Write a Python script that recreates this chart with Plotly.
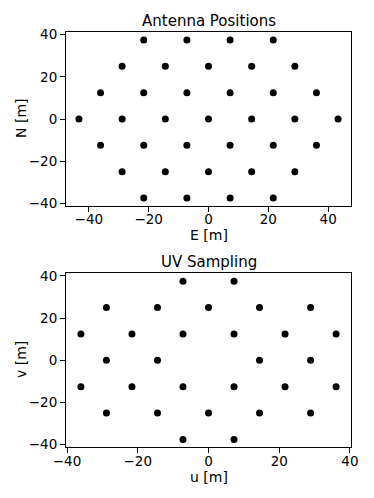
import plotly.graph_objects as go

# Antenna positions (m)
ant_E = [-21.65, -7.22, 7.22, 21.65,
         -28.87, -14.43, 0.0, 14.43, 28.87,
         -36.08, -21.65, -7.22, 7.22, 21.65, 36.08,
         -43.30, -28.87, -14.43, 0.0, 14.43, 28.87, 43.30,
         -36.08, -21.65, -7.22, 7.22, 21.65, 36.08,
         -28.87, -14.43, 0.0, 14.43, 28.87,
         -21.65, -7.22, 7.22, 21.65]
ant_N = [37.5, 37.5, 37.5, 37.5,
         25.0, 25.0, 25.0, 25.0, 25.0,
         12.5, 12.5, 12.5, 12.5, 12.5, 12.5,
         0.0, 0.0, 0.0, 0.0, 0.0, 0.0, 0.0,
         -12.5, -12.5, -12.5, -12.5, -12.5, -12.5,
         -25.0, -25.0, -25.0, -25.0, -25.0,
         -37.5, -37.5, -37.5, -37.5]

# UV sampling (m)
uv_u = [-7.22, 7.22,
        -28.87, -14.43, 0.0, 14.43, 28.87,
        -36.08, -21.65, -7.22, 7.22, 21.65, 36.08,
        -28.87, -14.43, 14.43, 28.87,
        -36.08, -21.65, -7.22, 7.22, 21.65, 36.08,
        -28.87, -14.43, 0.0, 14.43, 28.87,
        -7.22, 7.22]
uv_v = [37.5, 37.5,
        25.0, 25.0, 25.0, 25.0, 25.0,
        12.5, 12.5, 12.5, 12.5, 12.5, 12.5,
        0.0, 0.0, 0.0, 0.0,
        -12.5, -12.5, -12.5, -12.5, -12.5, -12.5,
        -25.0, -25.0, -25.0, -25.0, -25.0,
        -37.5, -37.5]

tick_vals = [-40, -20, 0, 20, 40]

W, H = 374, 498
FONT = "DejaVu Sans"

fig = go.Figure()
marker = dict(color="black", size=7, line=dict(width=0))
fig.add_trace(go.Scatter(x=ant_E, y=ant_N, mode="markers", marker=marker,
                         xaxis="x", yaxis="y", showlegend=False))
fig.add_trace(go.Scatter(x=uv_u, y=uv_v, mode="markers", marker=marker,
                         xaxis="x2", yaxis="y2", showlegend=False))

x0, x1 = 66 / W, 351 / W
top_dom = [1 - 206 / H, 1 - 32 / H]
bot_dom = [1 - 447.3 / H, 1 - 273.3 / H]

ax_common = dict(showline=True, linecolor="black", linewidth=1, mirror=True,
                 ticks="outside", ticklen=5, tickwidth=1, tickcolor="black",
                 showgrid=False, zeroline=False, tickvals=tick_vals,
                 automargin=False,
                 tickfont=dict(family=FONT, size=13.5, color="black"))
x_extra = dict(ticklabelstandoff=-4)

xc = (x0 + x1) / 2


def ann(text, x, y, size=14, angle=0):
    return dict(text=text, x=x, y=y, xref="paper", yref="paper",
                showarrow=False, textangle=angle,
                font=dict(family=FONT, size=size, color="black"),
                xanchor="center", yanchor="middle")


fig.update_layout(
    width=W, height=H,
    margin=dict(l=0, r=0, t=0, b=0),
    paper_bgcolor="white", plot_bgcolor="white",
    font=dict(family=FONT, color="black"),
    xaxis=dict(domain=[x0, x1], anchor="y", range=[-47.63, 47.63], **ax_common, **x_extra),
    yaxis=dict(domain=top_dom, anchor="x", range=[-41.25, 41.25], **ax_common),
    xaxis2=dict(domain=[x0, x1], anchor="y2", range=[-40.3, 40.3], **ax_common, **x_extra),
    yaxis2=dict(domain=bot_dom, anchor="x2", range=[-41.25, 41.25], **ax_common),
    annotations=[
        ann("Antenna Positions", xc, 1 - 21 / H, size=15),
        ann("UV Sampling", xc, 1 - 262 / H, size=15),
        ann("E [m]", xc, 1 - 235 / H),
        ann("N [m]", 21 / W, 1 - 119 / H, angle=-90),
        ann("u [m]", xc, 1 - 477 / H),
        ann("v [m]", 21 / W, 1 - 360 / H, angle=-90),
    ],
)

fig.write_html("out.html", config={"displayModeBar": False},
               post_script="document.body.style.margin='0';document.body.style.overflow='hidden';")
